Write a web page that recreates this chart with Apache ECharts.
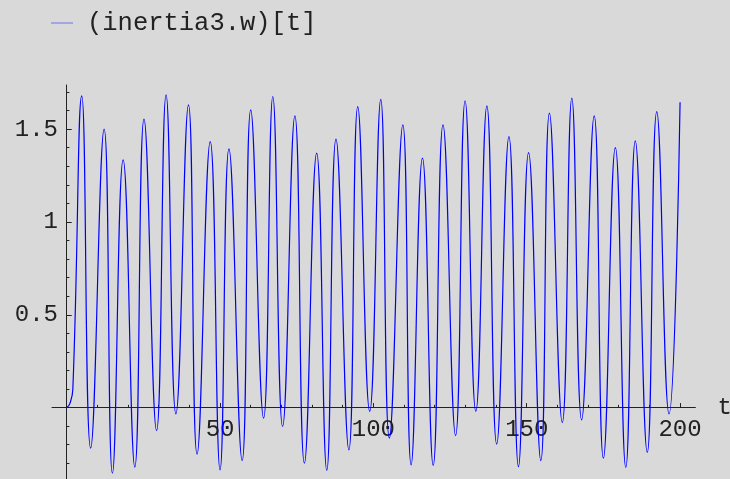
<!DOCTYPE html>
<html lang="en">
<head>
    <meta charset="UTF-8">
    <title>(inertia3.w)[t]</title>
    <script src="https://cdn.jsdelivr.net/npm/echarts@6.0.0/dist/echarts.min.js"></script>
    <style>
        html, body { margin: 0; padding: 0; background: #d9d9d9; }
        #chart { width: 730px; height: 479px; }
    </style>
</head>
<body>
<div id="chart"></div>
<script>
    // turning points (t, value)
    var tValues = [0, 1, 2, 4.9, 7.8, 12.2, 14.9, 18.4, 22.2, 25.2, 29.3, 32.4, 35.6, 39.7, 42.5,
        46.8, 50.0, 52.9, 57.2, 60.0, 64.2, 67.2, 70.4, 74.4, 77.5, 81.5, 84.8, 87.8, 92.0,
        94.9, 98.8, 102.4, 105.2, 109.6, 112.3, 116.0, 119.5, 122.7, 126.8, 129.9, 133.4,
        137.0, 140.2, 144.2, 147.3, 150.6, 154.6, 157.4, 161.6, 164.7, 167.9, 172.0, 175.0,
        178.9, 182.3, 185.4, 189.3, 192.4, 196.4, 200];
    var wValues = [0, 0.02, 0.1, 1.679, -0.219, 1.50, -0.354, 1.335, -0.321, 1.554, -0.124, 1.685, -0.034, 1.631, -0.251,
        1.433, -0.336, 1.394, -0.286, 1.604, -0.057, 1.676, -0.102, 1.572, -0.300, 1.371, -0.339, 1.446, -0.228,
        1.622, -0.021, 1.661, -0.165, 1.523, -0.309, 1.344, -0.312, 1.523, -0.151, 1.653, -0.021,
        1.625, -0.197, 1.460, -0.318, 1.374, -0.286, 1.586, -0.081, 1.667, -0.066, 1.572, -0.273,
        1.401, -0.323, 1.437, -0.242, 1.595, -0.034, 1.645];
    var xMajor = [50, 100, 150, 200];
    var xMinor = [10, 20, 30, 40, 60, 70, 80, 90, 110, 120, 130, 140, 160, 170, 180, 190];
    var yMajor = [0.5, 1, 1.5];
    var yMinor = [-0.3, -0.2, -0.1, 0.1, 0.2, 0.3, 0.4, 0.6, 0.7, 0.8, 0.9, 1.1, 1.2, 1.3, 1.4, 1.6, 1.7];

    var font = 'Liberation Mono';
    var xMin = -4.8, xMax = 205, yMin = -0.385, yMax = 1.738;

    var chart = echarts.init(document.getElementById('chart'));

    var points = tValues.map(function (t, i) { return [t, wValues[i]]; });

    chart.setOption({
        backgroundColor: '#d9d9d9',
        animation: false,
        textStyle: {fontFamily: font},
        legend: {
            left: 46,
            top: 5,
            icon: 'rect',
            itemWidth: 22,
            itemHeight: 1,
            textStyle: {fontFamily: font, fontSize: 25.5, color: '#222', padding: [0, 0, 0, 9]},
            data: [{name: '(inertia3.w)[t]', itemStyle: {color: '#6f6fe8'}}]
        },
        grid: {left: 52, right: 34.6, top: 85, bottom: 0, outerBoundsMode: 'none'},
        xAxis: [{
            type: 'value',
            position: 'bottom',
            min: xMin, max: xMax,
            name: 't',
            nameLocation: 'end',
            nameGap: 22,
            nameTextStyle: {fontFamily: font, fontSize: 24, color: '#222'},
            axisLine: {onZero: true, onZeroAxisIndex: 0, lineStyle: {color: '#222', width: 1}},
            axisTick: {inside: true, length: 4.5, customValues: xMajor, lineStyle: {color: '#222'}},
            // labels sit on the grid edge here, pull them up under the zero line
            axisLabel: {customValues: xMajor, margin: -61, fontFamily: font, fontSize: 24, color: '#222'},
            splitLine: {show: false}
        }, {
            type: 'value',
            position: 'top',
            min: xMin, max: xMax,
            axisLine: {show: false, onZero: true, onZeroAxisIndex: 0},
            axisTick: {inside: false, length: 2.7, customValues: xMinor, lineStyle: {color: '#222'}},
            axisLabel: {show: false},
            splitLine: {show: false}
        }],
        yAxis: [{
            type: 'value',
            position: 'left',
            min: yMin, max: yMax,
            axisLine: {onZero: true, onZeroAxisIndex: 0, lineStyle: {color: '#222', width: 1}},
            axisTick: {inside: true, length: 5, customValues: yMajor, lineStyle: {color: '#222'}},
            axisLabel: {customValues: yMajor, margin: -6, fontFamily: font, fontSize: 24, color: '#222'},
            splitLine: {show: false}
        }, {
            type: 'value',
            position: 'right',
            min: yMin, max: yMax,
            axisLine: {show: false, onZero: true, onZeroAxisIndex: 0},
            axisTick: {inside: false, length: 2.7, customValues: yMinor, lineStyle: {color: '#222'}},
            axisLabel: {show: false},
            splitLine: {show: false}
        }],
        series: [{
            name: '(inertia3.w)[t]',
            type: 'line',
            xAxisIndex: 0,
            yAxisIndex: 0,
            data: points,
            smooth: 0.5,
            showSymbol: false,
            symbol: 'none',
            lineStyle: {color: '#0000ff', width: 1.2}
        }]
    });
</script>
</body>
</html>
